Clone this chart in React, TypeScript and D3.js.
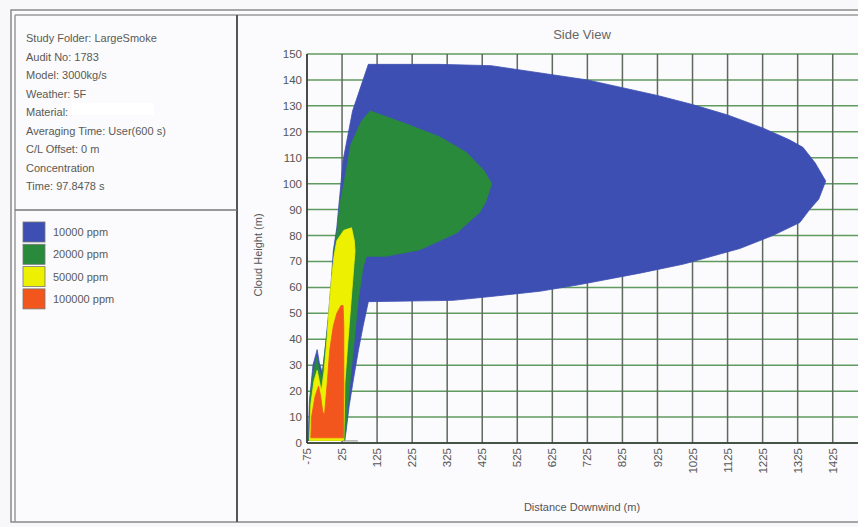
import React from 'react';
import * as d3 from 'd3';

// --- data ---
const infoLines = [
  'Study Folder: LargeSmoke',
  'Audit No: 1783',
  'Model: 3000kg/s',
  'Weather: 5F',
  'Material:',
  'Averaging Time: User(600 s)',
  'C/L Offset: 0 m',
  'Concentration',
  'Time: 97.8478 s',
];

const legendLabels = ['10000 ppm', '20000 ppm', '50000 ppm', '100000 ppm'];
const legendColors = ['#3d4fb2', '#2a8a3c', '#eef002', '#f2561c'];

const xTicks = [-75, 25, 125, 225, 325, 425, 525, 625, 725, 825, 925, 1025, 1125, 1225, 1325, 1425];
const yTicks = [0, 10, 20, 30, 40, 50, 60, 70, 80, 90, 100, 110, 120, 130, 140, 150];

// contours: [distance downwind (m), cloud height (m)]
const blueContour: [number, number][] = [
  [-72, 1], [-68, 16], [-58, 30], [-46, 36], [-40, 31], [-31, 27], [-22, 38], [-14, 49],
  [-5, 64], [0, 74], [10, 83], [28, 109], [55, 128], [100, 146], [300, 146], [450, 145.5],
  [625, 142], [725, 140], [825, 137], [925, 134], [1025, 130.5], [1125, 126.5], [1225, 121.5],
  [1300, 117], [1340, 114], [1375, 108], [1405, 101], [1385, 94], [1359, 90], [1331, 85],
  [1254, 80], [1160, 75], [1000, 69], [875, 65.5], [700, 61], [589, 58.5], [450, 56.5],
  [341, 55], [100, 54.5], [85, 45], [72, 36], [58, 25], [45, 14], [36, 4], [32, 1],
];
const greenContour: [number, number][] = [
  [-70, 1], [-66, 18], [-56, 28], [-47, 33], [-40, 28], [-33, 25], [-20, 40], [-12, 50],
  [-3, 65], [3, 74], [10, 81], [20, 93], [29, 99], [50, 115], [80, 124], [105, 128],
  [209, 123], [304, 118], [380, 112], [430, 105], [452, 100], [435, 93], [418, 89],
  [352, 81], [247, 74.5], [150, 72], [95, 72], [85, 68], [71, 55], [57, 36], [43, 17],
  [33, 1],
];
const yellowContour: [number, number][] = [
  [-68, 1], [-64, 15], [-55, 24], [-46, 28], [-40, 24], [-34, 20], [-26, 28], [-18, 40],
  [-13, 50], [-6, 62], [2, 72], [10, 78], [30, 82], [52, 83], [60, 78], [62, 74], [55, 62],
  [48, 50], [40, 36], [33, 23], [30, 1],
];
const orangeContour: [number, number][] = [
  [-64, 2], [-62, 10], [-52, 18], [-42, 22], [-36, 18], [-30, 12], [-25, 11], [-18, 22],
  [-10, 36], [0, 45], [10, 50], [22, 53], [28, 53], [30, 45], [30, 20], [29, 2],
];
const contours = [blueContour, greenContour, yellowContour, orangeContour];

const W = 858;
const H = 527;

const App: React.FC = () => {
  const x = d3.scaleLinear().domain([-75, 1500]).range([307, 859]);
  const y = d3.scaleLinear().domain([0, 150]).range([443, 54]);
  const line = d3.line<[number, number]>().x(d => x(d[0])).y(d => y(d[1]));
  const font = '"Liberation Sans", Arial, sans-serif';

  return (
    <svg width={W} height={H} style={{ position: 'absolute', left: 0, top: 0, background: '#f8f7fa' }}
      fontFamily={font}>
      {/* frame */}
      <rect x={0} y={0} width={W} height={H} fill="#f8f7fa" />
      <rect x={11} y={10} width={860} height={512} fill="#fbfafc" stroke="#8a8a8a" strokeWidth={1.5} />
      <line x1={15} y1={15} x2={W} y2={15} stroke="#9a9a9a" strokeWidth={1.5} />
      <line x1={15} y1={15} x2={15} y2={522} stroke="#9a9a9a" strokeWidth={1.5} />
      <line x1={237} y1={15} x2={237} y2={522} stroke="#555" strokeWidth={2} />
      <line x1={15} y1={210} x2={237} y2={210} stroke="#777" strokeWidth={1.5} />

      {/* info */}
      {infoLines.map((t, i) => (
        <text key={t} x={26} y={42 + i * 18.5} fontSize={11} fill="#5a5a55">{t}</text>
      ))}
      <rect x={72} y={103} width={82} height={12} fill="#ffffff" />

      {/* legend */}
      {legendLabels.map((t, i) => (
        <g key={t}>
          <rect x={23} y={222 + i * 22.3} width={22} height={20} fill={legendColors[i]} stroke="#777" strokeWidth={0.8} />
          <text x={53} y={236 + i * 22.3} fontSize={11} fill="#5a5a55">{t}</text>
        </g>
      ))}

      {/* title */}
      <text x={582} y={39} textAnchor="middle" fontSize={13} fill="#666">Side View</text>

      {/* grid */}
      {yTicks.map(v => (
        <line key={'h' + v} x1={x(-75)} x2={W} y1={y(v)} y2={y(v)} stroke="#5f9a5f" strokeWidth={1.5} />
      ))}
      {xTicks.map(v => (
        <line key={'v' + v} x1={x(v)} x2={x(v)} y1={y(150)} y2={y(0)} stroke="#5e6a5e" strokeWidth={1.5} />
      ))}

      {/* plume contours */}
      {contours.map((c, i) => (
        <path key={i} d={line(c) + 'Z'} fill={legendColors[i]} stroke={legendColors[i]} strokeWidth={0.8} />
      ))}
      <line x1={x(28)} x2={x(70)} y1={y(0.8)} y2={y(0.8)} stroke="#8a8a8a" strokeWidth={1} />

      {/* axes */}
      <line x1={x(-75)} x2={x(-75)} y1={y(150)} y2={y(0)} stroke="#333" strokeWidth={1.5} />
      <line x1={x(-75)} x2={W} y1={y(0)} y2={y(0)} stroke="#333" strokeWidth={1.5} />

      {yTicks.map(v => (
        <text key={'yl' + v} x={302} y={y(v)} dy="0.35em" textAnchor="end" fontSize={11.5} fill="#555">{v}</text>
      ))}
      {xTicks.map(v => (
        <text key={'xl' + v} transform={`translate(${x(v)},${448}) rotate(-90)`} dy="0.35em"
          textAnchor="end" fontSize={11.5} fill="#555">{v}</text>
      ))}

      <text transform={`translate(258,255) rotate(-90)`} dy="0.35em" textAnchor="middle" fontSize={11} fill="#555">
        Cloud Height (m)
      </text>
      <text x={582} y={511} textAnchor="middle" fontSize={11} fill="#555">Distance Downwind (m)</text>
    </svg>
  );
};

export default App;
